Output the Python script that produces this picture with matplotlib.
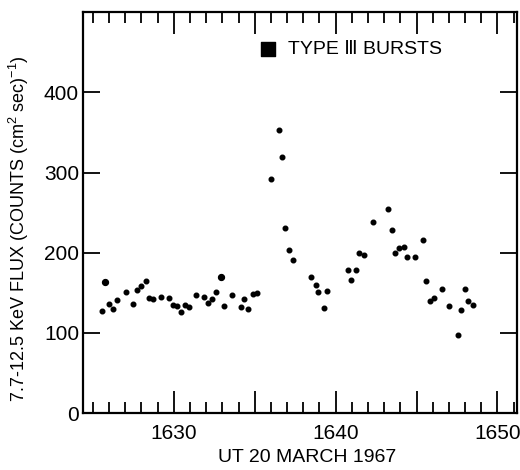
import matplotlib
matplotlib.use("Agg")
from matplotlib import pyplot as plt
from matplotlib.ticker import MultipleLocator, FixedLocator
import numpy as np

plt.rcParams['font.family'] = ['Liberation Sans', 'DejaVu Sans']
plt.rcParams['mathtext.default'] = 'regular'

# minutes UT (hhmm as number) and flux
ut_time = [1625.56, 1625.74, 1625.99, 1626.23, 1626.50, 1627.02, 1627.47, 1627.73,
           1627.96, 1628.25, 1628.46, 1628.72, 1629.22, 1629.71, 1629.96, 1630.20,
           1630.45, 1630.68, 1630.91, 1631.38, 1631.87, 1632.14, 1632.33, 1632.59,
           1632.92, 1633.13, 1633.62, 1634.14, 1634.36, 1634.59, 1634.88, 1635.12,
           1635.99, 1636.52, 1636.69, 1636.87, 1637.10, 1637.35, 1638.48, 1638.77,
           1638.93, 1639.30, 1639.49, 1640.74, 1640.97, 1641.25, 1641.46, 1641.77,
           1642.28, 1643.23, 1643.46, 1643.66, 1643.91, 1644.20, 1644.38, 1644.90,
           1645.39, 1645.56, 1645.82, 1646.09, 1646.56, 1647.02, 1647.55, 1647.72,
           1648.01, 1648.19, 1648.50]
flux = [127, 163, 136, 130, 141, 151, 136, 153,
        159, 165, 144, 142, 145, 144, 135, 133,
        126, 135, 132, 147, 145, 137, 142, 151,
        170, 134, 147, 132, 142, 130, 148, 150,
        292, 353, 320, 231, 203, 191, 170, 160,
        151, 131, 152, 179, 166, 178, 200, 197,
        238, 254, 228, 200, 206, 207, 195, 195,
        216, 165, 140, 144, 155, 133, 98, 128,
        155, 140, 135]
# slightly heavier dots
big_time = [1625.74, 1632.92]
big_flux = [163, 170]

x_ticks = [1630, 1640, 1650]
y_ticks = [0, 100, 200, 300, 400]

fig = plt.figure(figsize=(5.2, 4.7), dpi=100)
ax = fig.add_axes([0.16, 0.121, 0.834, 0.853])

ax.scatter(ut_time, flux, s=11, color='black', zorder=3)
ax.scatter(big_time, big_flux, s=18, color='black', zorder=3)

ax.set_xlim(1624.4, 1651.2)
ax.set_ylim(0, 500)

ax.xaxis.set_major_locator(FixedLocator([1630, 1635, 1640, 1645, 1650]))
ax.xaxis.set_minor_locator(MultipleLocator(1))
ax.set_xticklabels(["1630", "", "1640", "", "1650"])
ax.set_yticks(y_ticks)
ax.set_yticklabels([str(v) for v in y_ticks])

ax.tick_params(axis='both', which='both', direction='in', top=True, right=True,
               labelsize=15, width=1.3)
ax.tick_params(axis='x', which='major', length=16, pad=8)
ax.tick_params(axis='x', which='minor', length=8)
ax.tick_params(axis='y', which='major', length=12, pad=3)
for s in ax.spines.values():
    s.set_linewidth(1.6)

ax.set_xlabel("UT 20 MARCH 1967", fontsize=14)
ax.xaxis.set_label_coords(0.516, -0.09)
ax.set_ylabel("7.7-12.5 KeV FLUX (COUNTS (cm$^2$ sec)$^{-1}$)", fontsize=13)
ax.yaxis.set_label_coords(-0.12, 0.46)

ax.scatter([0.425], [0.908], marker='s', s=95, color='black', transform=ax.transAxes,
           clip_on=False)
ax.text(0.472, 0.908, "TYPE Ⅲ BURSTS", transform=ax.transAxes, fontsize=14,
        va='center', ha='left')

plt.savefig("out.png", dpi=100)
